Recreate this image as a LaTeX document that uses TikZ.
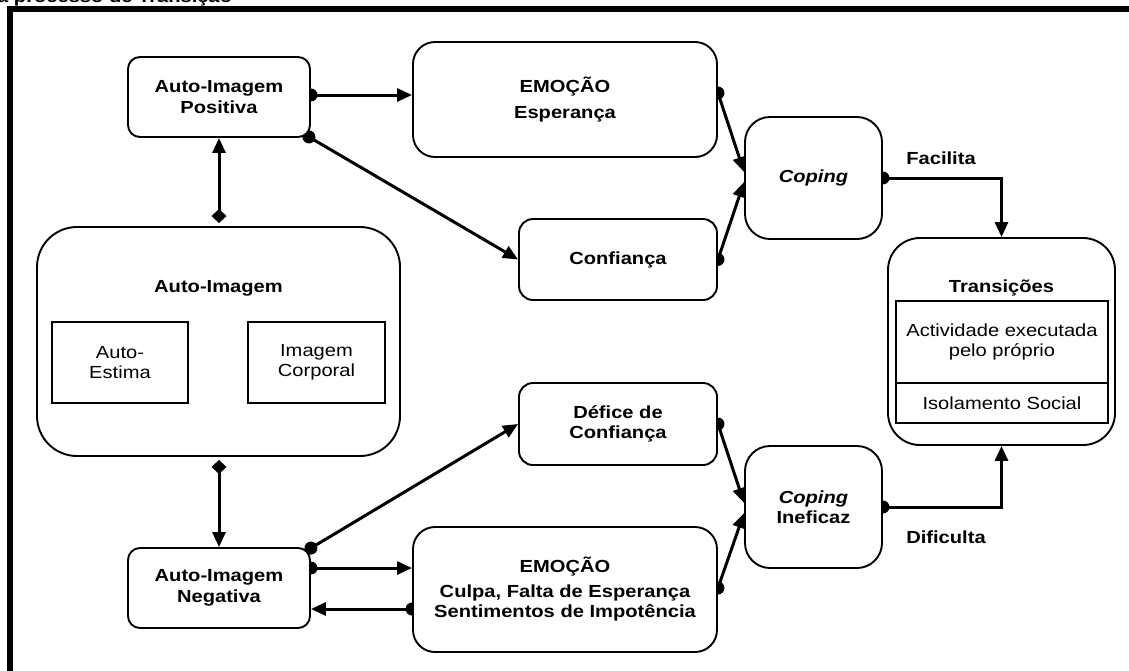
\documentclass[tikz,border=0pt]{standalone}
\usepackage{fontspec}
\setmainfont{Liberation Sans}[FakeStretch=1.15]
\usetikzlibrary{arrows.meta,backgrounds,calc}
\newcommand\dfont{\fontsize{17.5}{20.5}\selectfont}
\begin{document}
\begin{tikzpicture}[x=1pt,y=-1pt,
  box/.style={draw, line width=1.9pt, fill=white, inner sep=0pt, align=center, font=\dfont\bfseries},
  plainbox/.style={draw, line width=1.7pt, fill=white, inner sep=0pt, align=center, font=\dfont},
  conn/.style={line width=3pt, -{Triangle[length=15pt,width=13pt]}},
  diaconn/.style={line width=3pt, {Diamond[length=14pt,width=15pt]}-{Triangle[length=15pt,width=13pt]}},
  lbl/.style={font=\dfont\bfseries, inner sep=0pt},
  dotr/.style={fill=black}
]
\useasboundingbox (0,0) rectangle (1129,670);
\clip (0,0) rectangle (1129,670);

% frame and cut title
\draw[line width=5.5pt] (9.8,700) -- (9.8,8.8) -- (1150,8.8);
\node[anchor=base west, font=\dfont\bfseries, inner sep=0pt] (title) at (-3,2) {a processo de Transição};

% boxes
\node[box, rounded corners=12pt, minimum width=182pt, minimum height=80pt] (pos) at (219,97) {Auto-Imagem\\Positiva};
\node[box, rounded corners=22pt, minimum width=304pt, minimum height=115pt] (emo1) at (565,99.5) {EMOÇÃO\\[6pt]Esperança};
\node[box, rounded corners=14pt, minimum width=198pt, minimum height=81pt] (conf) at (618,259.5) {Confiança};
\node[box, rounded corners=25pt, minimum width=137pt, minimum height=122pt] (cop) at (813.5,178) {\itshape Coping};

\node[box, rounded corners=40pt, minimum width=363pt, minimum height=229pt] (ai) at (218.5,341.5) {};
\node[lbl] (aititle) at (218.5,288) {Auto-Imagem};
\node[plainbox, minimum width=136pt, minimum height=81pt] (ae) at (120,362.5) {Auto-\\Estima};
\node[plainbox, minimum width=137pt, minimum height=81pt] (ic) at (316.5,362.5) {Imagem\\Corporal};

\node[box, rounded corners=32pt, minimum width=227pt, minimum height=207pt] (trans) at (1001.5,341.5) {};
\node[lbl] (transtitle) at (1001.5,288) {Transições};
\node[plainbox, minimum width=212pt, minimum height=82pt] (tab1) at (1002,342) {Actividade executada\\pelo próprio};
\node[plainbox, minimum width=212pt, minimum height=40pt] (tab2) at (1002,403) {Isolamento Social};

\node[box, rounded corners=12pt, minimum width=182pt, minimum height=80pt] (neg) at (219,588) {Auto-Imagem\\Negativa};
\node[box, rounded corners=14pt, minimum width=198pt, minimum height=82pt] (def) at (618,424) {Défice de\\Confiança};
\node[box, rounded corners=22pt, minimum width=304pt, minimum height=125pt] (emo2) at (565,589.5) {EMOÇÃO\\[4pt]Culpa, Falta de Esperança\\Sentimentos de Impotência};
\node[box, rounded corners=25pt, minimum width=137pt, minimum height=122pt] (copi) at (813.5,507) {\itshape Coping\\Ineficaz};

\node[lbl] (fac) at (941,158) {Facilita};
\node[lbl] (dif) at (946,537) {Dificulta};

% connectors
\begin{scope}[on background layer]
  \coordinate (p1) at ([yshift=2pt]pos.east);
  \fill[dotr] (p1) circle (6.5pt);
  \draw[conn] (p1) -- (p1 -| emo1.west);
  \fill[dotr] ([shift={(-2pt,1pt)}]pos.south east) circle (6.5pt);
  \draw[conn] ([shift={(-2pt,1pt)}]pos.south east) -- (conf.west);

  \coordinate (e1) at ([yshift=6.5pt]emo1.east);
  \fill[dotr] (e1) circle (6.5pt);
  \draw[conn] (e1) -- ([yshift=6pt]cop.west);
  \fill[dotr] (conf.east) circle (6.5pt);
  \draw[conn] (conf.east) -- ([yshift=-4pt]cop.west);

  \fill[dotr] (def.east) circle (6.5pt);
  \draw[conn] (def.east) -- ([yshift=4pt]copi.west);
  \coordinate (e2) at ([yshift=1.5pt]emo2.east);
  \fill[dotr] (e2) circle (6.5pt);
  \draw[conn] (e2) -- ([yshift=-6pt]copi.west);

  \fill[dotr] (cop.east) circle (6.5pt);
  \draw[conn] (cop.east) -| (trans.north);
  \fill[dotr] (copi.east) circle (6.5pt);
  \draw[conn] (copi.east) -| (trans.south);

  \draw[diaconn, shorten <=3pt] (ai.north -| pos.south) -- (pos.south);
  \draw[diaconn, shorten <=3pt] (ai.south -| neg.north) -- (neg.north);

  \coordinate (n0) at ([shift={(0pt,-1pt)}]neg.north east);
  \fill[dotr] (n0) circle (6.5pt);
  \draw[conn] (n0) -- (def.west);
  \coordinate (n1) at ([yshift=20pt]neg.east);
  \fill[dotr] (n1) circle (6.5pt);
  \draw[conn] (n1) -- (n1 -| emo2.west);
  \coordinate (n2) at ([yshift=-21pt]neg.east);
  \fill[dotr] (n2 -| emo2.west) circle (6.5pt);
  \draw[conn] (n2 -| emo2.west) -- (n2);

  \coordinate (a1) at ([yshift=20.5pt]ae.east);
  \draw[line width=2.4pt, -{Triangle[length=15pt,width=12pt]}] (a1) -- (a1 -| ic.west);
  \coordinate (a2) at ([yshift=-20.5pt]ae.east);
  \draw[line width=2.4pt, -{Triangle[length=15pt,width=12pt]}] (a2 -| ic.west) -- (a2);
\end{scope}
\end{tikzpicture}
\end{document}
